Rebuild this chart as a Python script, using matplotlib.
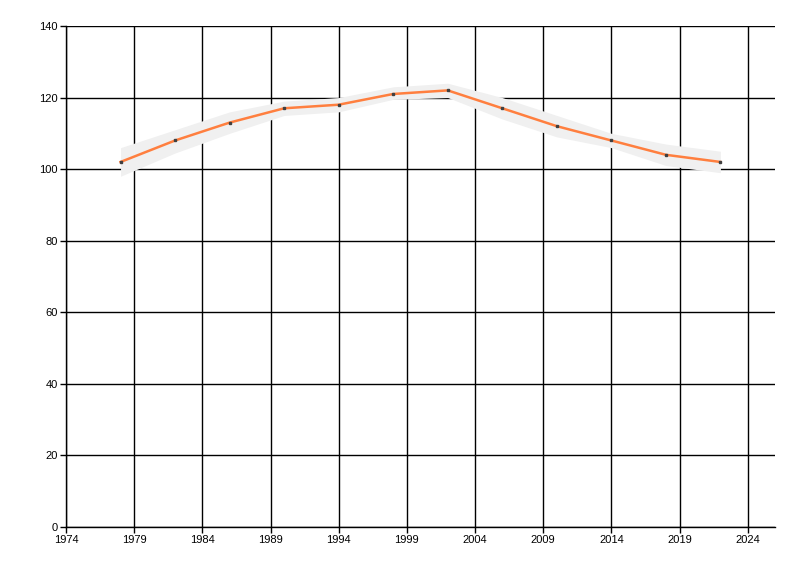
import matplotlib
matplotlib.use("Agg")
import matplotlib.pyplot as plt

years = [1978, 1982, 1986, 1990, 1994, 1998, 2002, 2006, 2010, 2014, 2018, 2022]
values = [102, 108, 113, 117, 118, 121, 122, 117, 112, 108, 104, 102]
upper = [106, 111, 116, 119, 120, 123, 124, 120, 115, 110, 107, 105]
lower = [98, 104.5, 110, 115, 116, 119.5, 120, 114, 109, 106, 101, 99]
x_ticks = [1974, 1979, 1984, 1989, 1994, 1999, 2004, 2009, 2014, 2019, 2024]
y_ticks = [0, 20, 40, 60, 80, 100, 120, 140]

plt.rcParams['font.family'] = ['Liberation Sans', 'DejaVu Sans']

fig = plt.figure(figsize=(8, 5.76), dpi=100)
ax = fig.add_axes([0.0825, 0.0851, 0.8862, 0.8698])

# confidence band, then the line with small point markers
ax.fill_between(years, lower, upper, color='#f0f0f0', linewidth=0, zorder=2)
ax.plot(years, values, color='#ff7f3f', linewidth=1.8, zorder=3)
ax.plot(years, values, linestyle='none', marker='s', markersize=2,
        color='#404040', zorder=4)

ax.set_xlim(1974, 2026)
ax.set_ylim(0, 140)
ax.set_xticks(x_ticks)
ax.set_yticks(y_ticks)
ax.grid(True, color='black', linewidth=1, zorder=1)
ax.set_axisbelow(True)

for side in ['top', 'right']:
    ax.spines[side].set_visible(False)
for side in ['left', 'bottom']:
    ax.spines[side].set_linewidth(1)

ax.tick_params(axis='both', labelsize=8, length=4, width=1, pad=2)

fig.savefig('out.png', dpi=100)
